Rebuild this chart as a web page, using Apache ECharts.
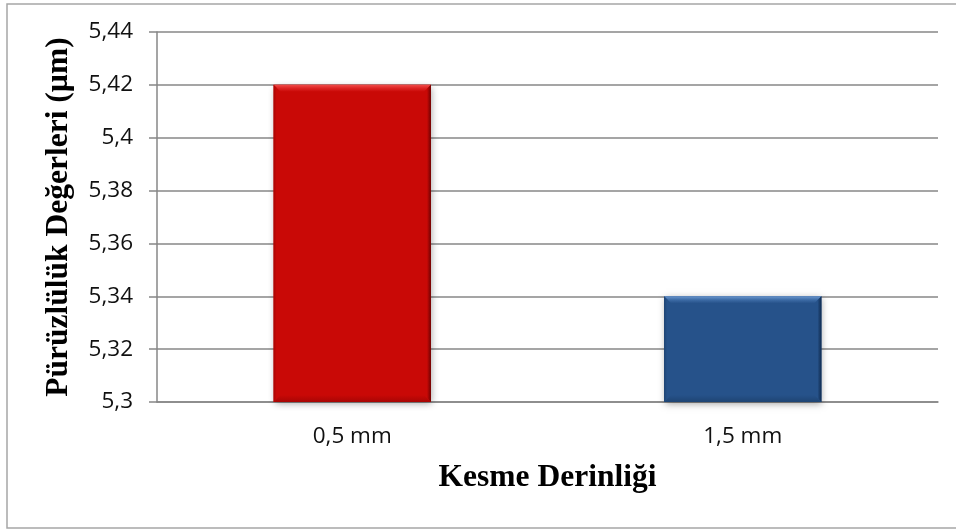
<!DOCTYPE html>
<html>
<head>
<meta charset="utf-8">
<script src="https://cdn.jsdelivr.net/npm/echarts@6/dist/echarts.min.js"></script>
<style>
  html, body { margin: 0; padding: 0; background: #ffffff; }
  #chart { width: 956px; height: 529px; }
</style>
</head>
<body>
<div id="chart"></div>
<script>
// Cutting depth categories and measured roughness (µm)
const categories = ['0,5 mm', '1,5 mm'];
const roughness = [5.42, 5.34];
const barColors = [
  { main: '#C90906', light: '#F04A48', soft: '#DC2222', dark: '#6E0202', mid: '#A80604' },
  { main: '#26528A', light: '#6A96CE', soft: '#3D6CA6', dark: '#0F2A4E', mid: '#1E4473' }
];
const yMin = 5.3, yMax = 5.44, yStep = 0.02;

const chart = echarts.init(document.getElementById('chart'));

function fmt(v) {
  return String(+v.toFixed(2)).replace('.', ',');
}

// Bevelled bar drawn from the value axis coordinates
function renderBar(params, api) {
  const idx = api.value(0);
  const val = api.value(1);
  const top = api.coord([idx, val]);
  const base = api.coord([idx, yMin]);
  const w = api.size([1, 0])[0] * 0.403;
  const x0 = top[0] - w / 2, x1 = top[0] + w / 2;
  const y0 = top[1], y1 = base[1];
  const c = barColors[idx];
  const b = 7;
  return {
    type: 'group',
    children: [
      { type: 'rect', shape: { x: x0, y: y0, width: w, height: y1 - y0 },
        style: { fill: c.main, shadowBlur: 7, shadowColor: 'rgba(0,0,0,0.35)', shadowOffsetX: 1, shadowOffsetY: 2 } },
      { type: 'polygon', shape: { points: [[x0, y0], [x1, y0], [x1 - b, y0 + b], [x0 + b, y0 + b]] },
        style: { fill: new echarts.graphic.LinearGradient(0, 0, 0, 1, [
          { offset: 0, color: c.light }, { offset: 0.5, color: c.soft }, { offset: 1, color: c.main }]) } },
      { type: 'polygon', shape: { points: [[x1, y0], [x1, y1], [x1 - 4, y1 - 4], [x1 - 4, y0 + 4]] },
        style: { fill: new echarts.graphic.LinearGradient(1, 0, 0, 0, [
          { offset: 0, color: c.dark }, { offset: 1, color: c.main }]) } },
      { type: 'polygon', shape: { points: [[x0, y1], [x1, y1], [x1 - b, y1 - b], [x0 + b, y1 - b]] },
        style: { fill: new echarts.graphic.LinearGradient(0, 1, 0, 0, [
          { offset: 0, color: c.mid }, { offset: 1, color: c.main }]) } },
      { type: 'polygon', shape: { points: [[x0, y0], [x0 + 3, y0 + 3], [x0 + 3, y1 - 3], [x0, y1]] },
        style: { fill: new echarts.graphic.LinearGradient(0, 0, 1, 0, [
          { offset: 0, color: c.mid }, { offset: 1, color: c.main }]) } }
    ]
  };
}

chart.setOption({
  animation: false,
  backgroundColor: '#ffffff',
  graphic: [{
    type: 'rect', z: 100,
    shape: { x: 7, y: 4, width: 1000, height: 524 },
    style: { fill: 'none', stroke: '#a6a6a6', lineWidth: 1.5 }
  }],
  grid: { left: 157, right: 18, top: 32, bottom: 127 },
  xAxis: {
    type: 'category',
    data: categories,
    name: 'Kesme Derinliği',
    nameLocation: 'middle',
    nameGap: 60,
    nameTextStyle: { fontFamily: 'Liberation Serif', fontWeight: 'bold', fontSize: 31.5, color: '#000' },
    axisLine: { lineStyle: { color: '#878787', width: 1.5 } },
    axisTick: { show: false },
    axisLabel: { fontFamily: 'Open Sans', fontSize: 22.5, color: '#111', margin: 23 }
  },
  yAxis: {
    type: 'value',
    min: yMin, max: yMax, interval: yStep,
    name: 'Pürüzlülük Değerleri (µm)',
    nameLocation: 'middle',
    nameGap: 82,
    nameTextStyle: { fontFamily: 'Liberation Serif', fontWeight: 'bold', fontSize: 31.5, color: '#000' },
    axisLine: { show: true, lineStyle: { color: '#878787', width: 1.5 } },
    axisTick: { show: true, length: 8, lineStyle: { color: '#878787', width: 1.5 } },
    splitLine: { lineStyle: { color: '#878787', width: 1.5 } },
    axisLabel: { fontFamily: 'Open Sans', fontSize: 22.5, color: '#111', margin: 24, formatter: fmt }
  },
  series: [{
    type: 'custom',
    renderItem: renderBar,
    encode: { x: 0, y: 1 },
    data: roughness.map((v, i) => [i, v])
  }]
});
</script>
</body>
</html>
